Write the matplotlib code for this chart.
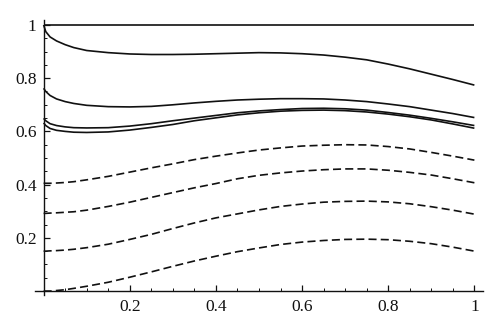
import matplotlib
matplotlib.use("Agg")
import matplotlib.pyplot as plt
from matplotlib.ticker import MultipleLocator, FixedLocator, FixedFormatter

x = [0.0, 0.005, 0.015, 0.03, 0.05, 0.07, 0.1, 0.15, 0.2, 0.25, 0.3, 0.35, 0.4, 0.45,
     0.5, 0.55, 0.6, 0.65, 0.7, 0.75, 0.8, 0.85, 0.9, 0.95, 1.0]

top_line = [1.0] * len(x)
solid_a = [1.0, 0.975, 0.955, 0.940, 0.926, 0.915, 0.904, 0.896, 0.891, 0.889, 0.889, 0.890,
           0.892, 0.894, 0.896, 0.895, 0.892, 0.887, 0.879, 0.869, 0.853, 0.835, 0.815, 0.795, 0.774]
solid_b = [0.762, 0.750, 0.735, 0.722, 0.712, 0.705, 0.698, 0.693, 0.692, 0.694, 0.700, 0.707,
           0.713, 0.718, 0.721, 0.723, 0.723, 0.722, 0.718, 0.712, 0.703, 0.693, 0.680, 0.667, 0.652]
solid_c = [0.649, 0.640, 0.629, 0.622, 0.617, 0.614, 0.613, 0.614, 0.620, 0.629, 0.640, 0.650,
           0.660, 0.670, 0.677, 0.682, 0.686, 0.687, 0.685, 0.680, 0.671, 0.661, 0.649, 0.636, 0.622]
solid_d = [0.632, 0.622, 0.611, 0.604, 0.600, 0.597, 0.596, 0.598, 0.605, 0.615, 0.626, 0.640,
           0.651, 0.662, 0.670, 0.676, 0.679, 0.680, 0.678, 0.673, 0.665, 0.655, 0.643, 0.628, 0.612]

dashed_1 = [0.405, 0.405, 0.405, 0.406, 0.408, 0.411, 0.418, 0.431, 0.447, 0.463, 0.478, 0.494,
            0.507, 0.519, 0.530, 0.538, 0.545, 0.548, 0.550, 0.549, 0.543, 0.534, 0.521, 0.507, 0.492]
dashed_2 = [0.292, 0.292, 0.293, 0.294, 0.296, 0.298, 0.304, 0.318, 0.334, 0.352, 0.370, 0.388,
            0.404, 0.422, 0.435, 0.444, 0.451, 0.456, 0.459, 0.459, 0.454, 0.446, 0.436, 0.422, 0.407]
dashed_3 = [0.150, 0.150, 0.151, 0.152, 0.154, 0.157, 0.163, 0.176, 0.194, 0.213, 0.235, 0.256,
            0.275, 0.290, 0.305, 0.318, 0.327, 0.334, 0.337, 0.338, 0.335, 0.328, 0.317, 0.304, 0.289]
dashed_4 = [0.0, 0.0, 0.0, 0.002, 0.005, 0.010, 0.018, 0.033, 0.052, 0.072, 0.093, 0.113,
            0.131, 0.148, 0.162, 0.175, 0.184, 0.190, 0.194, 0.195, 0.193, 0.187, 0.178, 0.165, 0.150]

solid_series = [top_line, solid_a, solid_b, solid_c, solid_d]
dashed_series = [dashed_1, dashed_2, dashed_3, dashed_4]

x_ticks = [0.2, 0.4, 0.6, 0.8, 1.0]
x_tick_labels = ["0.2", "0.4", "0.6", "0.8", "1"]
y_ticks = [0.2, 0.4, 0.6, 0.8, 1.0]
y_tick_labels = ["0.2", "0.4", "0.6", "0.8", "1"]

plt.rcParams['font.family'] = ['Liberation Serif', 'DejaVu Serif']
plt.rcParams['lines.scale_dashes'] = False

fig = plt.figure(figsize=(5.0, 3.33), dpi=100)
ax = fig.add_axes([0.07, 0.114, 0.896, 0.827])

lw = 1.2
col = "#111111"
for s in solid_series:
    ax.plot(x, s, color=col, lw=lw, solid_capstyle='butt')
for s in dashed_series:
    ax.plot(x, s, color=col, lw=lw, dashes=(5.8, 3.0), dash_capstyle='butt')

ax.set_xlim(-0.02, 1.02)
ax.set_ylim(-0.015, 1.02)

for side in ("top", "right"):
    ax.spines[side].set_visible(False)
ax.spines["left"].set_position(("data", 0))
ax.spines["bottom"].set_position(("data", 0))
for side in ("left", "bottom"):
    ax.spines[side].set_linewidth(1.0)
    ax.spines[side].set_color(col)

ax.xaxis.set_major_locator(FixedLocator(x_ticks))
ax.xaxis.set_major_formatter(FixedFormatter(x_tick_labels))
ax.yaxis.set_major_locator(FixedLocator(y_ticks))
ax.yaxis.set_major_formatter(FixedFormatter(y_tick_labels))
ax.xaxis.set_minor_locator(MultipleLocator(0.05))
ax.yaxis.set_minor_locator(MultipleLocator(0.05))

ax.tick_params(which='major', direction='in', length=4.5, width=0.9, color=col,
               labelsize=12.5, labelcolor=col)
ax.tick_params(which='minor', direction='in', length=2.5, width=0.7, color=col)
ax.tick_params(axis='x', which='major', pad=6)
ax.tick_params(axis='y', which='major', pad=5)

fig.savefig("out.png", dpi=100)
